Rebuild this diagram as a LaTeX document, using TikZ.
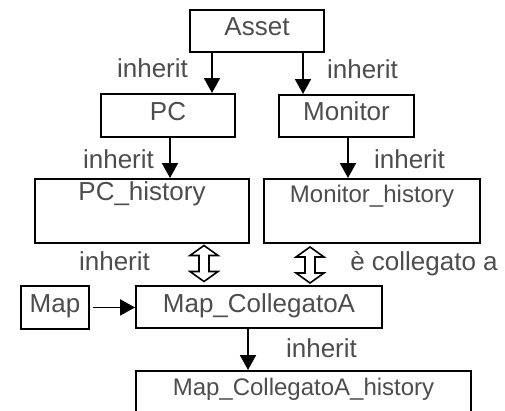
\documentclass[tikz,border=0pt]{standalone}
\usepackage{fontspec}
\setmainfont{Liberation Sans}
\usetikzlibrary{arrows.meta}
\definecolor{txt}{RGB}{77,77,77}
\begin{document}
\begin{tikzpicture}[x=1pt,y=-1pt,
  box/.style={draw=black, line width=1.9pt, rectangle, inner xsep=0pt, inner ysep=0pt,
    anchor=north, text=txt, font=\fontsize{26}{30}\selectfont},
  smallbox/.style={box, font=\fontsize{24}{28}\selectfont},
  lbl/.style={anchor=base, text=txt, font=\fontsize{26}{30}\selectfont, inner sep=0pt},
  arr/.style={line width=1.9pt, -{Triangle[length=15pt,width=16pt]}},
  dbl/.pic={\draw[line width=1.6pt, fill=white]
    (-14,-8) -- (0,-18) -- (14,-8) -- (5,-8) -- (5,8) -- (14,8) -- (0,18)
    -- (-14,8) -- (-5,8) -- (-5,-8) -- cycle;}
]
\useasboundingbox (0,0) rectangle (505,410);
\clip (0,0) rectangle (505,410);

% boxes
\node[box, minimum width=134pt, text height=26pt, text depth=16pt] (asset) at (257,9) {Asset};
\node[box, minimum width=134pt, text height=27pt, text depth=16pt] (pc) at (168,93) {PC};
\node[box, minimum width=135pt, text height=26pt, text depth=16pt] (mon) at (346.5,94) {Monitor};
\node[box, minimum width=214pt, text height=22pt, text depth=42pt] (pch) at (142,178) {PC\_history};
\node[smallbox, minimum width=216pt, text height=24pt, text depth=40pt] (monh) at (372,178) {Monitor\_history};
\node[box, minimum width=68pt, text height=27pt, text depth=16pt] (map) at (55,285) {Map};
\node[box, minimum width=246pt, text height=27pt, text depth=15pt] (mca) at (259,285) {Map\_CollegatoA};
\node[smallbox, minimum width=335pt, text height=25pt, text depth=45pt] (mcah) at (303.5,370) {Map\_CollegatoA\_history};

% connector x positions
\coordinate (xa) at (212,0);
\coordinate (xb) at (303,0);
\coordinate (xc) at (170,0);
\coordinate (xd) at (348,0);
\coordinate (xe) at (248,0);

\draw[arr] (asset.south -| xa) -- (pc.north -| xa);
\draw[arr] (asset.south -| xb) -- (mon.north -| xb);
\draw[arr] (pc.south -| xc) -- (pch.north -| xc);
\draw[arr] (mon.south -| xd) -- (monh.north -| xd);
\draw[arr, shorten <=3pt] (map.east) -- (mca.west |- map.east);
\draw[arr] (mca.south -| xe) -- (mcah.north -| xe);

% double arrows
\pic at (204,263.5) {dbl};
\pic at (310,265) {dbl};

% labels
\node[lbl] (l1) at (152.5,77) {inherit};
\node[lbl] (l2) at (362.5,78) {inherit};
\node[lbl] (l3) at (118.5,168) {inherit};
\node[lbl] (l4) at (409.5,168) {inherit};
\node[lbl] (l5) at (114.5,270) {inherit};
\node[lbl] (l6) at (424,270) {è collegato a};
\node[lbl] (l7) at (321.5,357) {inherit};
\end{tikzpicture}
\end{document}
